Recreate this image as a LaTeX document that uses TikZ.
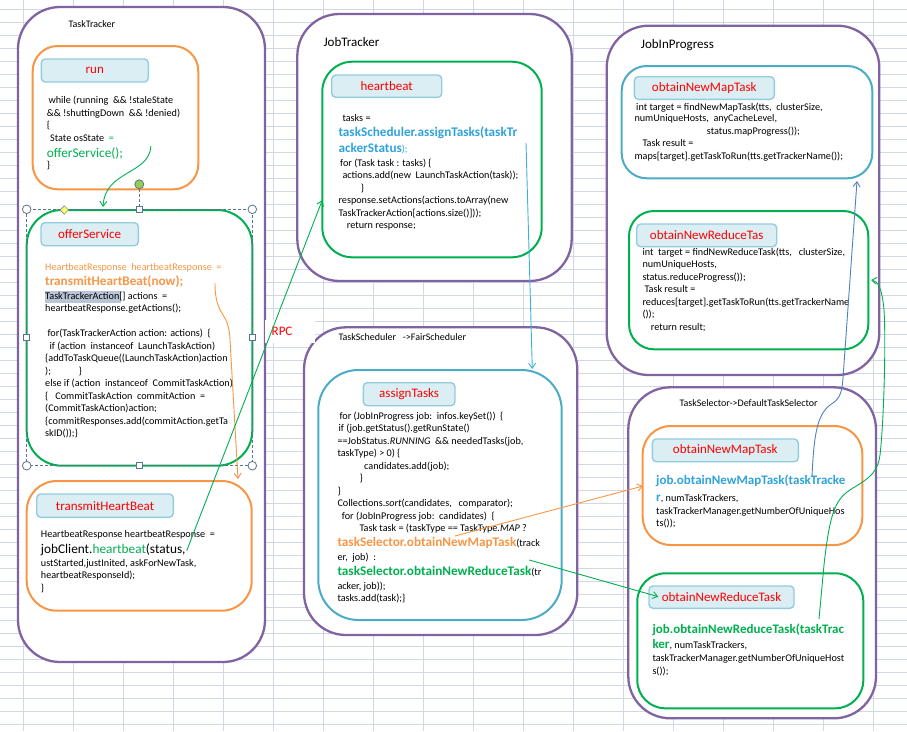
\documentclass[tikz,border=0pt]{standalone}
\usepackage{fontspec}
\setmainfont{Carlito}
\usetikzlibrary{arrows.meta,calc}
\definecolor{cpurple}{HTML}{8064A2}
\definecolor{corange}{HTML}{F79646}
\definecolor{cgreen}{HTML}{00B050}
\definecolor{cteal}{HTML}{4BACC6}
\definecolor{lblfill}{HTML}{DAEEF3}
\definecolor{lblborder}{HTML}{93CDDD}
\definecolor{cgrid}{HTML}{D0D7E5}
\definecolor{tblue}{HTML}{2FA3DC}
\definecolor{lblue}{HTML}{3DB1DE}
\definecolor{cslate}{HTML}{4F81BD}
\definecolor{hlgray}{HTML}{B9C5D7}
\definecolor{hdl}{HTML}{5C7290}
\definecolor{rotg}{HTML}{92D050}
\definecolor{diay}{HTML}{FFFF66}
\newcount\lnum
\newcommand\cl[3]{\global\advance\lnum by 1\relax\node[code] (ln\the\lnum) at (#1,#2) {#3};}
\newcommand\txtB[2]{{\fontsize{13.2}{14}\selectfont\bfseries\color{#1}#2}}
\newcommand\txtS[2]{{\fontsize{13}{14}\selectfont\bfseries\color{#1}#2}}
\newcommand\txtR[2]{{\fontsize{13.3}{14}\selectfont\color{#1}#2}}
\newcommand\bx[7]{\node[#2, minimum width={#5pt-#3pt}, minimum height={#6pt-#4pt}] (#1) at ({(#3+#5)/2},{(#4+#6)/2}) {#7};}
\tikzset{
  grid/.style={draw=cgrid, line width=0.8pt},
  outerbox/.style={draw=cpurple, line width=2.3pt, fill=white, rounded corners=42pt, inner sep=0pt},
  inbox/.style={line width=2pt, fill=white, inner sep=0pt},
  lbl/.style={draw=lblborder, fill=lblfill, line width=1.4pt, rounded corners=4pt, inner sep=0pt, font=\fontsize{13}{15}\selectfont, text=red},
  code/.style={anchor=base west, inner sep=0pt, font=\fontsize{10.2}{12}\selectfont, text=black},
  title/.style={anchor=base west, inner sep=0pt, font=\fontsize{10}{12}\selectfont, text=black},
  titlebig/.style={anchor=base west, inner sep=0pt, font=\fontsize{13}{15}\selectfont, text=black},
  conn/.style={line width=0.9pt, -{Straight Barb[length=5pt,width=7pt]}},
  hdlline/.style={draw=hdl, line width=0.8pt, dash pattern=on 3pt off 2pt},
  hdlbox/.style={fill=white, draw=hdl, line width=0.8pt}
}
\begin{document}
\begin{tikzpicture}[x=1pt,y=-1pt]
\useasboundingbox (0,0) rectangle (907,731);
\fill[white] (0,0) rectangle (907,731);
% grid
\foreach \k in {0,...,17} \draw[grid] ({23.3+50*\k},0) -- ({23.3+50*\k},731);
\foreach \k in {0,...,55} \draw[grid] (0,{9.5+13*\k}) -- (907,{9.5+13*\k});

% outer boxes
\bx{tt}{outerbox}{18}{7}{265}{662}{}
\bx{jt}{outerbox}{297.3}{14}{571.7}{281}{}
\bx{ts}{outerbox}{304}{327.3}{577.3}{635}{}
\bx{jip}{outerbox}{606.7}{25.7}{879.3}{375}{}
\bx{tsel}{outerbox}{628.3}{387.3}{876}{718.3}{}

% titles
\node[title] (ttT) at (68.3,27.5) {TaskTracker};
\node[titlebig] (jtT) at (323.3,46.3) {JobTracker};
\node[title] (tsT) at (338.3,340.7) {TaskScheduler\ \ \ ->FairScheduler};
\node[titlebig] (jipT) at (640.7,48.3) {JobInProgress};
\node[title] (tselT) at (679.3,406.3) {TaskSelector->DefaultTaskSelector};

% inner boxes
\bx{run}{inbox,draw=corange,rounded corners=25pt}{32.7}{46}{198.3}{189.3}{}
\bx{offer}{inbox,draw=cgreen,rounded corners=35pt}{26.7}{210}{252.3}{465.7}{}
\bx{trans}{inbox,draw=corange,rounded corners=30pt}{26.7}{481}{251.7}{610.7}{}
\bx{hb}{inbox,draw=cgreen,rounded corners=30pt}{322.3}{61.7}{541.7}{257.3}{}
\bx{at}{inbox,draw=cteal,rounded corners=40pt}{318.3}{370}{561.7}{620}{}
\bx{omapA}{inbox,draw=cteal,rounded corners=25pt}{621.7}{66}{872.3}{178.3}{}
\bx{oredA}{inbox,draw=cgreen,rounded corners=25pt}{629}{211}{868.3}{349.3}{}
\bx{omapB}{inbox,draw=corange,rounded corners=28pt}{642.7}{426}{862.3}{545}{}
\bx{oredB}{inbox,draw=cgreen,rounded corners=28pt}{637.3}{573.3}{863.3}{708.3}{}

% labels
\bx{lrun}{lbl}{41.3}{59}{148.3}{82}{run}
\bx{loffer}{lbl}{41}{222.7}{138.3}{245.7}{offerService}
\bx{ltrans}{lbl}{36.7}{494}{173.3}{517.3}{transmitHeartBeat}
\bx{lhb}{lbl}{331.7}{75}{441.7}{97.3}{heartbeat}
\bx{lat}{lbl}{363.3}{382.7}{455}{405.7}{assignTasks}
\bx{lomapA}{lbl}{634.3}{76.7}{774.3}{99.3}{obtainNewMapTask}
\bx{loredA}{lbl}{636.7}{224}{776.7}{246.7}{obtainNewReduceTas}
\bx{lomapB}{lbl}{652.3}{439}{798.3}{461.7}{obtainNewMapTask}
\bx{loredB}{lbl}{649}{586}{794}{608.3}{obtainNewReduceTask}

% run code
\cl{48.3}{103}{while (running\ \ \&\& !staleState}
\cl{46.7}{116.3}{\&\& !shuttingDown\ \ \&\& !denied)}
\cl{46.7}{128.7}{\{}
\cl{50}{141.1}{State osState\ \ \textcolor{cgreen}{=}}
\cl{46.7}{157}{\txtR{cgreen}{offerService();}}
\cl{46.7}{168.5}{\}}

% offerService code
\fill[hlgray] (45,290.7) rectangle (121,303.3);
\cl{45}{270.2}{\textcolor{corange}{HeartbeatResponse\ \ heartbeatResponse\ \ =}}
\cl{45}{285.3}{\txtB{corange}{transmitHeartBeat(now);}}
\cl{45}{299.2}{TaskTrackerAction[] actions\ \ =}
\cl{45}{311.5}{heartbeatResponse.getActions();}
\cl{47.3}{336.8}{for(TaskTrackerAction action: actions)\ \ \{}
\cl{49.3}{349.5}{if (action\ \ instanceof\ \ LaunchTaskAction)}
\cl{45}{361.8}{\{addToTaskQueue((LaunchTaskAction)action}
\cl{45}{374.2}{);}
\cl{78.3}{374.2}{\}}
\cl{45}{386.5}{else if (action\ \ instanceof\ \ CommitTaskAction)}
\cl{45}{399.2}{\{\ \ \ CommitTaskAction\ \ commitAction\ \ =}
\cl{45}{411.5}{(CommitTaskAction)action;}
\cl{45}{424.2}{\{commitResponses.add(commitAction.getTa}
\cl{45}{436.8}{skID());\}}

% transmitHeartBeat code
\cl{40.7}{537.5}{HeartbeatResponse heartbeatResponse\ \ =}
\cl{40.7}{553}{\txtR{black}{jobClient.}\txtR{cgreen}{heartbeat}\txtR{black}{(status,}}
\cl{40.7}{566.8}{ustStarted,justInited, askForNewTask,}
\cl{40.7}{578.5}{heartbeatResponseId);}
\cl{40.7}{591.5}{\}}

% heartbeat code
\cl{342.3}{121.5}{tasks =}
\cl{338.3}{136.3}{\txtB{tblue}{taskScheduler.assignTasks(taskTr}}
\cl{338.3}{152.3}{\txtB{tblue}{ackerStatus}\textcolor{tblue}{);}}
\cl{340}{166.5}{for (Task task : tasks) \{}
\cl{342.3}{178.5}{actions.add(new\ \ LaunchTaskAction(task));}
\cl{360.7}{191.5}{\}}
\cl{338.3}{203.5}{response.setActions(actions.toArray(new}
\cl{338.3}{216.5}{TaskTrackerAction[actions.size()]));}
\cl{346.7}{228.5}{return response;}

% assignTasks code
\cl{339.3}{419.8}{for (JobInProgress job:\ \ infos.keySet())\ \ \{}
\cl{338.3}{431.5}{if (job.getStatus().getRunState()}
\cl{337.3}{444.5}{==JobStatus.\textit{RUNNING}\ \ \&\& neededTasks(job,}
\cl{337.3}{456.8}{taskType) > 0) \{}
\cl{364}{469.2}{candidates.add(job);}
\cl{359.3}{481.8}{\}}
\cl{337.3}{494.2}{\}}
\cl{337.3}{506.5}{Collections.\textit{sort}(candidates,\ \ \ comparator);}
\cl{341.7}{519.2}{for (JobInProgress job:\ \ candidates)\ \ \{}
\cl{359.3}{531.8}{Task task = (taskType == TaskType.\textit{MAP} ?}
\cl{337.3}{546.3}{\txtB{corange}{taskSelector.obtainNewMapTask}(track}
\cl{337.3}{560.8}{er,\ \ job)\ \ :}
\cl{337.3}{575.3}{\txtB{cgreen}{taskSelector.obtainNewReduceTask}(tr}
\cl{337.3}{589.2}{acker, job));}
\cl{337.3}{601.8}{tasks.add(task);\}}

% JobInProgress map code
\cl{636}{110.2}{int target = findNewMapTask(tts,\ \ clusterSize,}
\cl{634.3}{121.8}{numUniqueHosts,\ \ anyCacheLevel,}
\cl{706.7}{134.5}{status.mapProgress());}
\cl{642.3}{146.5}{Task result =}
\cl{634.3}{159.8}{maps[target].getTaskToRun(tts.getTrackerName());}

% JobInProgress reduce code
\cl{642.3}{255.2}{int\ \ target = findNewReduceTask(tts,\ \ \ clusterSize,}
\cl{642.3}{267.5}{numUniqueHosts,}
\cl{642.3}{280.2}{status.reduceProgress());}
\cl{644.3}{292.5}{Task result =}
\cl{642.3}{305.2}{reduces[target].getTaskToRun(tts.getTrackerName}
\cl{642.3}{317.5}{());}
\cl{650.7}{330.2}{return result;}

% TaskSelector map code
\cl{656}{484}{\txtS{tblue}{job.obtainNewMapTask(taskTracke}}
\cl{656}{501.3}{\txtS{tblue}{r}, numTaskTrackers,}
\cl{656}{514.2}{taskTrackerManager.getNumberOfUniqueHos}
\cl{656}{526.5}{ts());}

% TaskSelector reduce code
\cl{652.3}{633}{\txtS{cgreen}{job.obtainNewReduceTask(taskTrac}}
\cl{652.3}{648.7}{\txtS{cgreen}{ker}, numTaskTrackers,}
\cl{652.3}{661.8}{taskTrackerManager.getNumberOfUniqueHost}
\cl{652.3}{674.2}{s());}

% selection handles of offerService
\draw[hdlline] (26.7,209.3) rectangle (252.3,465.7);
\draw[hdlline] (139.3,189) -- (139.3,206);
\foreach \p in {(26.7,209.3),(252.3,209.3),(26.7,465.7),(252.3,465.7)}
  \filldraw[hdlbox] \p circle[radius=4.3pt];
\foreach \p in {(139.3,209.3),(26.7,337.7),(252.3,337.7),(139.3,465.7)}
  \filldraw[hdlbox] \p ++(-3,-3) rectangle ++(6,6);
\filldraw[fill=diay, draw=hdl!80, line width=0.6pt] (64.3,205.8) -- (68.5,210) -- (64.3,214.2) -- (60.1,210) -- cycle;
\filldraw[fill=rotg, draw=hdl, line width=0.8pt] (139.3,184.3) circle[radius=4.5pt];

% RPC label
\node[fill=white, inner xsep=6.7pt, inner ysep=0pt, text width=36.6pt, minimum height=23pt, align=left, font=\fontsize{13}{15}\selectfont, text=red] (rpc) at (290,331.5) {RPC};

% connectors
\coordinate (a1s) at (151,146); \coordinate (a1e) at (103,207);
\draw[conn, cgreen] (a1s) .. controls (149,175) and (105,170) .. (a1e);
\coordinate (a2s) at (215,283); \coordinate (a2e) at (238,479);
\draw[conn, corange] (a2s) .. controls (215,318) and (229,310) .. (230,340) -- (a2e);
\coordinate (a3s) at (186.7,550.7); \coordinate (a3e) at (322.3,200);
\draw[conn, cgreen] (a3s) -- (a3e);
\coordinate (a4s) at (526,143); \coordinate (a4e) at (532.3,369);
\draw[conn, lblue] (a4s) -- (a4e);
\coordinate (a5s) at (455,536); \coordinate (a5e) at (643,486);
\draw[conn, corange] (a5s) -- (a5e);
\coordinate (a6s) at (529.3,560); \coordinate (a6e) at (658.3,596.7);
\draw[conn, cgreen] (a6s) -- (a6e);
\coordinate (a7s) at (812,477); \coordinate (a7e) at (857,181);
\draw[conn, cslate] (a7s) .. controls (814,430) and (818,412) .. (833,403) .. controls (840,398) and (842,392) .. (843,378) -- (a7e);
\coordinate (a8s) at (819,619); \coordinate (a8e) at (871,280);
\draw[conn, cgreen] (a8s) -- (824,565) .. controls (830,510) and (836,498) .. (853,488) .. controls (872,477) and (878,470) .. (880,455) .. controls (884,420) and (886,340) .. (884,310) .. controls (882,288) and (878,281) .. (a8e);
\end{tikzpicture}
\end{document}
